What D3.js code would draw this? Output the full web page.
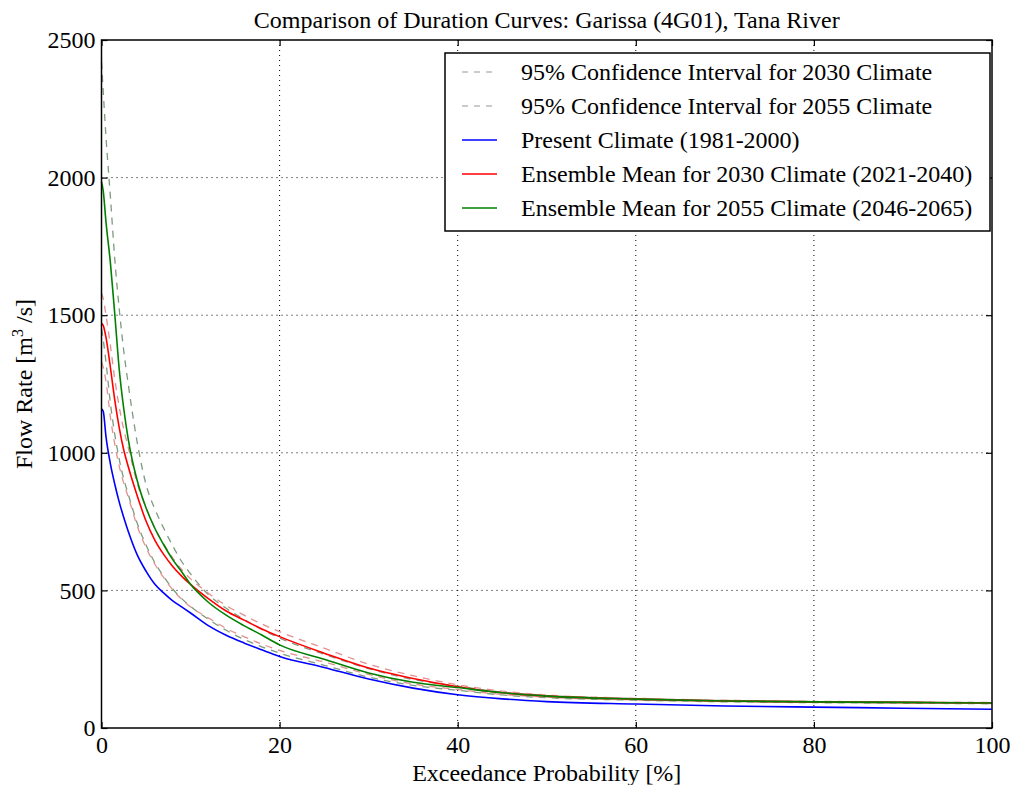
<!DOCTYPE html>
<html>
<head>
<meta charset="utf-8">
<script src="https://cdnjs.cloudflare.com/ajax/libs/d3/7.8.5/d3.min.js"></script>
<style>
    body { margin: 0; background: #fff; }
    svg text { font-family: "Liberation Serif", serif; fill: #000; }
</style>
</head>
<body>
<svg id="chart" width="1013" height="785"></svg>
<script>
// exceedance probability [%]
const probs = [0, 0.2, 0.5, 1, 1.5, 2, 2.5, 3, 4, 5, 6, 7, 8, 9, 10, 12, 14, 16, 18, 20, 25, 30, 35, 40, 45, 50, 60, 70, 80, 90, 100];

const present = [1160, 1150, 1060, 960, 885, 820, 765, 715, 630, 570, 522, 490, 462, 440, 418, 372, 337, 309, 284, 260, 220, 178, 145, 121, 106, 96, 87, 80, 76, 72, 68];
const mean2030 = [1470, 1462, 1420, 1310, 1190, 1090, 1010, 950, 845, 752, 682, 630, 587, 552, 522, 470, 425, 392, 360, 332, 272, 218, 180, 150, 128, 116, 105, 98, 95, 93, 91];
const mean2055 = [1985, 1950, 1840, 1690, 1500, 1300, 1160, 1050, 900, 800, 725, 665, 612, 568, 522, 457, 410, 372, 338, 302, 250, 200, 166, 147, 128, 116, 105, 98, 95, 93, 91];
const upper2030 = [1580, 1560, 1500, 1390, 1265, 1165, 1085, 1020, 890, 800, 725, 668, 618, 576, 542, 490, 445, 410, 378, 350, 290, 232, 190, 157, 134, 120, 108, 101, 97, 95, 93];
const lower2030 = [1330, 1310, 1260, 1130, 1030, 950, 890, 840, 735, 655, 595, 546, 502, 468, 440, 400, 362, 332, 305, 282, 240, 195, 160, 140, 122, 112, 102, 96, 93, 91, 89];
const upper2055 = [2420, 2310, 2150, 1930, 1700, 1520, 1370, 1250, 1040, 885, 795, 725, 662, 605, 560, 485, 435, 395, 358, 327, 268, 216, 176, 152, 130, 118, 107, 100, 96, 94, 92];
const lower2055 = [1450, 1410, 1330, 1180, 1065, 975, 905, 850, 745, 665, 600, 550, 505, 470, 442, 395, 355, 322, 295, 272, 228, 185, 155, 137, 120, 110, 101, 95, 92, 90, 88];

const xTicks = [0, 20, 40, 60, 80, 100];
const yTicks = [0, 500, 1000, 1500, 2000, 2500];

const legendItems = [
    { label: "95% Confidence Interval for 2030 Climate", color: "#bbbbbb", dash: "6,6" },
    { label: "95% Confidence Interval for 2055 Climate", color: "#bbbbbb", dash: "6,6" },
    { label: "Present Climate (1981-2000)", color: "#0000ff", dash: null },
    { label: "Ensemble Mean for 2030 Climate (2021-2040)", color: "#ff0000", dash: null },
    { label: "Ensemble Mean for 2055 Climate (2046-2065)", color: "#008000", dash: null }
];

const svg = d3.select("#chart");
const plotLeft = 101.5, plotRight = 992, plotTop = 40, plotBottom = 728;
const fontSize = "24px";

const x = d3.scaleLinear().domain([0, 100]).range([plotLeft, plotRight]);
const y = d3.scaleLinear().domain([0, 2500]).range([plotBottom, plotTop]);

// grid
const grid = svg.append("g").attr("stroke", "#000").attr("stroke-width", 1).attr("stroke-dasharray", "1,4");
grid.selectAll(".gx").data(xTicks.slice(1, -1)).join("line")
    .attr("x1", d => x(d)).attr("x2", d => x(d)).attr("y1", plotTop).attr("y2", plotBottom);
grid.selectAll(".gy").data(yTicks.slice(1, -1)).join("line")
    .attr("x1", plotLeft).attr("x2", plotRight).attr("y1", d => y(d)).attr("y2", d => y(d));

// curves
const line = d3.line()
    .x((d, i) => x(probs[i]))
    .y(d => y(d))
    .curve(d3.curveMonotoneX);

const plot = svg.append("g").attr("fill", "none");
const dashed = [
    [upper2055, "#7f9a7f"], [lower2055, "#7f9a7f"],
    [upper2030, "#e29090"], [lower2030, "#e29090"]
];
dashed.forEach(([vals, col]) => {
    plot.append("path").attr("d", line(vals))
        .attr("stroke", col).attr("stroke-width", 1.3).attr("stroke-dasharray", "7,6");
});
[[present, "#0000ff"], [mean2030, "#ff0000"], [mean2055, "#008000"]].forEach(([vals, col]) => {
    plot.append("path").attr("d", line(vals))
        .attr("stroke", col).attr("stroke-width", 1.6);
});

// axes (ticks inside, on all four sides)
const tickLen = 6;
svg.append("g").attr("transform", `translate(0,${plotBottom})`)
    .call(d3.axisBottom(x).tickValues(xTicks).tickSizeInner(-tickLen).tickSizeOuter(0).tickPadding(8))
    .call(g => g.select(".domain").remove());
svg.append("g").attr("transform", `translate(0,${plotTop})`)
    .call(d3.axisTop(x).tickValues(xTicks).tickSizeInner(-tickLen).tickSizeOuter(0).tickFormat(""))
    .call(g => g.select(".domain").remove());
svg.append("g").attr("transform", `translate(${plotLeft},0)`)
    .call(d3.axisLeft(y).tickValues(yTicks).tickFormat(d3.format("d")).tickSizeInner(-tickLen).tickSizeOuter(0).tickPadding(6))
    .call(g => g.select(".domain").remove());
svg.append("g").attr("transform", `translate(${plotRight},0)`)
    .call(d3.axisRight(y).tickValues(yTicks).tickSizeInner(-tickLen).tickSizeOuter(0).tickFormat(""))
    .call(g => g.select(".domain").remove());
svg.selectAll(".tick line").attr("stroke", "#000").attr("stroke-width", 1.2);
svg.selectAll(".tick text").style("font-family", "Liberation Serif").style("font-size", fontSize);

svg.append("rect").attr("x", plotLeft).attr("y", plotTop)
    .attr("width", plotRight - plotLeft).attr("height", plotBottom - plotTop)
    .attr("fill", "none").attr("stroke", "#000").attr("stroke-width", 1.5);

// titles
svg.append("text").attr("x", (plotLeft + plotRight) / 2).attr("y", 28)
    .attr("text-anchor", "middle").style("font-size", fontSize)
    .text("Comparison of Duration Curves: Garissa (4G01), Tana River");
svg.append("text").attr("x", (plotLeft + plotRight) / 2).attr("y", 781)
    .attr("text-anchor", "middle").style("font-size", fontSize)
    .text("Exceedance Probability [%]");
const yl = svg.append("text")
    .attr("transform", `translate(32,${(plotTop + plotBottom) / 2}) rotate(-90)`)
    .attr("text-anchor", "middle").style("font-size", fontSize);
yl.append("tspan").text("Flow Rate [m");
yl.append("tspan").attr("dy", -9).style("font-size", "16px").text("3");
yl.append("tspan").attr("dy", 9).text(" /s]");

// legend
const lg = svg.append("g");
lg.append("rect").attr("x", 445).attr("y", 53).attr("width", 545).attr("height", 178)
    .attr("fill", "#fff").attr("stroke", "#000").attr("stroke-width", 1.5);
legendItems.forEach((d, i) => {
    const cy = 72 + i * 34;
    lg.append("line").attr("x1", 462).attr("x2", 497).attr("y1", cy).attr("y2", cy)
        .attr("stroke", d.color).attr("stroke-width", 1.6)
        .attr("stroke-dasharray", d.dash);
    lg.append("text").attr("x", 521).attr("y", cy + 8).style("font-size", fontSize).text(d.label);
});
</script>
</body>
</html>
